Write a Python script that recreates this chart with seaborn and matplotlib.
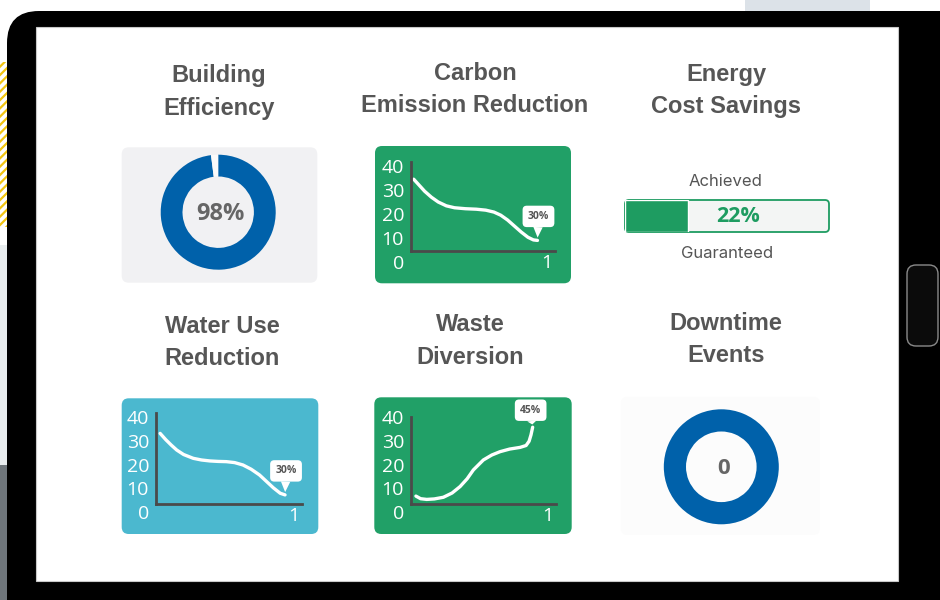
import numpy as np
import pandas as pd
import matplotlib.pyplot as plt
import seaborn as sns
from matplotlib.patches import FancyBboxPatch, Rectangle

sns.set_theme(style="white")
plt.rcParams["font.family"] = ["Open Sans", "DejaVu Sans"]
plt.rcParams["hatch.linewidth"] = 1.6

W, H = 940, 600

# ---- data ----
titles = ["Building\nEfficiency", "Carbon\nEmission Reduction", "Energy\nCost Savings",
          "Water Use\nReduction", "Waste\nDiversion", "Downtime\nEvents"]

efficiency_pct = [98, 2]

y_ticks = [0, 10, 20, 30, 40]
x_ticks = [1]

carbon_x = [0.02, 0.06, 0.10, 0.15, 0.20, 0.26, 0.32, 0.40, 0.48, 0.55, 0.61,
            0.66, 0.71, 0.76, 0.81, 0.86, 0.90, 0.93]
carbon_y = [34.5, 32.0, 29.5, 27.0, 25.0, 23.4, 22.6, 22.2, 22.0, 21.6, 20.8,
            19.5, 17.5, 15.0, 12.5, 10.3, 9.2, 9.0]
carbon_label = "30%"

water_x = [0.03, 0.07, 0.11, 0.15, 0.20, 0.27, 0.33, 0.39, 0.45, 0.51, 0.57,
           0.63, 0.69, 0.75, 0.80, 0.85, 0.90, 0.935]
water_y = [33.1, 30.5, 28.2, 26.1, 24.2, 22.6, 21.9, 21.5, 21.3, 21.2, 20.8,
           19.8, 18.0, 15.6, 12.9, 10.2, 7.9, 7.2]
water_label = "30%"

waste_x = [0.036, 0.07, 0.115, 0.17, 0.236, 0.30, 0.358, 0.41, 0.455, 0.528,
           0.59, 0.65, 0.72, 0.796, 0.84, 0.862, 0.876, 0.888]
waste_y = [6.7, 5.6, 5.3, 5.5, 6.2, 8.0, 10.7, 14.0, 17.7, 21.9,
           24.0, 25.4, 26.5, 27.2, 28.0, 29.8, 32.5, 35.7]
waste_label = "45%"

savings_pct = 22
savings_scale = 71
savings_top = "Achieved"
savings_bottom = "Guaranteed"

downtime_events = 0
downtime_ring = [1]

# ---- colours ----
GREEN = "#21A067"
BAR_GREEN = "#1E9C61"
CYAN = "#4BB8CF"
BLUE = "#0061AA"
TITLE_GRAY = "#565656"
AXIS_GRAY = "#4A4A4A"


def px_rect(x0, y0, x1, y1):
    return [x0 / W, 1 - y1 / H, (x1 - x0) / W, (y1 - y0) / H]


fig = plt.figure(figsize=(W / 100, H / 100), dpi=100, facecolor="white")

# background: tablet frame and panels in pixel coordinates
bg = fig.add_axes([0, 0, 1, 1])
bg.set_xlim(0, W)
bg.set_ylim(H, 0)
bg.axis("off")

bg.add_patch(Rectangle((745, 0), 125, 13, color="#DCE2E8", lw=0))
bg.add_patch(Rectangle((0, 62), 9, 165, facecolor="none", edgecolor="#F2C511",
                       hatch="////", lw=0))
bg.add_patch(Rectangle((0, 245), 9, 220, color="#E9EDEF", lw=0))
bg.add_patch(Rectangle((0, 465), 9, 135, color="#6F767B", lw=0))
bg.add_patch(FancyBboxPatch((7, 11), 980, 640, boxstyle="round,pad=0,rounding_size=32",
                            fc="black", ec="none"))
bg.add_patch(Rectangle((36, 27), 862, 554, fc="white", ec="#C8C8C8", lw=0.8))
bg.add_patch(FancyBboxPatch((907, 265), 31, 81, boxstyle="round,pad=0,rounding_size=9",
                            fc="#0B0B0B", ec="#8A8A8A", lw=1.0))

panels = [
    ((121.7, 147.3, 317.3, 282.7), "#F1F1F3"),
    ((375, 146, 571, 283.3), GREEN),
    ((121.7, 398.3, 318.3, 534), CYAN),
    ((374.3, 397.3, 571.7, 534), GREEN),
    ((620.7, 396.7, 820, 535), "#FCFCFC"),
]
for (x0, y0, x1, y1), c in panels:
    bg.add_patch(FancyBboxPatch((x0, y0), x1 - x0, y1 - y0,
                                boxstyle="round,pad=0,rounding_size=7", fc=c, ec="none"))

# titles
title_pos = [(219, 92), (475, 89.5), (726, 90.5), (222, 342.5), (470, 341), (726, 339.5)]
for t, (x, y) in zip(titles, title_pos):
    fig.text(x / W, 1 - y / H, t, ha="center", va="center", fontsize=17,
             fontweight="bold", color=TITLE_GRAY, linespacing=1.55,
             family=["Liberation Sans", "DejaVu Sans"])


def donut(center, r_out, r_in, values, colors, label, size):
    cx, cy = center
    ax = fig.add_axes(px_rect(cx - r_out, cy - r_out, cx + r_out, cy + r_out))
    ax.pie(values, colors=colors, startangle=90, counterclock=False, radius=1,
           wedgeprops=dict(width=1 - r_in / r_out, linewidth=0))
    ax.set_xlim(-1, 1)
    ax.set_ylim(-1, 1)
    ax.text(0.04, -0.03, label, ha="center", va="center", fontsize=size,
            fontweight="bold", color="#666666")
    return ax


donut((218.2, 212.2), 57.5, 35.7, efficiency_pct, [BLUE, "#FAFAFA"],
      f"{efficiency_pct[0]}%", 17)
donut((721.3, 466.8), 57.5, 35.3, downtime_ring, [BLUE], str(downtime_events), 16)


def line_panel(rect, origin, scale, base, top, xs, ys, label, offset):
    x0, y0, x1, y1 = rect
    ox, oy = origin
    sx, sy = scale
    ax = fig.add_axes(px_rect(*rect))
    ax.set_facecolor("none")
    df = pd.DataFrame({"x": xs, "y": ys})
    sns.lineplot(data=df, x="x", y="y", color="white", lw=2.4, ax=ax,
                 sort=False, solid_capstyle="round")
    ax.set_xlim((x0 - ox) / sx, (x1 - ox) / sx)
    ax.set_ylim((oy - y1) / sy, (oy - y0) / sy)
    ax.set_xlabel("")
    ax.set_ylabel("")
    for s in ["top", "right"]:
        ax.spines[s].set_visible(False)
    ax.spines["left"].set_position(("data", 0))
    ax.spines["left"].set_bounds(base, top)
    ax.spines["bottom"].set_position(("data", base))
    ax.spines["bottom"].set_bounds(0, 1.06)
    for s in ["left", "bottom"]:
        ax.spines[s].set_color(AXIS_GRAY)
        ax.spines[s].set_linewidth(2)
    ax.set_yticks(y_ticks)
    ax.set_xticks(x_ticks)
    ax.tick_params(length=0, labelcolor="white", labelsize=14)
    ax.tick_params(axis="y", pad=5)
    ax.tick_params(axis="x", pad=2)
    ax.annotate(label, xy=(xs[-1], ys[-1]), xytext=offset, textcoords="offset pixels",
                ha="center", va="center", fontsize=7.5, fontweight="bold", color="#555555",
                bbox=dict(boxstyle="round,pad=0.5,rounding_size=0.4", fc="white", ec="none"),
                arrowprops=dict(arrowstyle="wedge,tail_width=0.9,shrink_factor=0.5",
                                fc="white", ec="none", shrinkA=0, shrinkB=2))
    return ax


line_panel((375, 146, 571, 283.3), (411, 262), (136, 2.4), 4.6, 41.8,
           carbon_x, carbon_y, carbon_label, (1, 24))
line_panel((121.7, 398.3, 318.3, 534), (156, 512), (138, 2.375), 3.4, 41.7,
           water_x, water_y, water_label, (1, 24))
line_panel((374.3, 397.3, 571.7, 534), (411, 512), (137, 2.375), 3.4, 40.0,
           waste_x, waste_y, waste_label, (-2, 17))

# progress bar
bg.add_patch(FancyBboxPatch((625, 200), 204, 32, boxstyle="round,pad=0,rounding_size=4",
                            fc="#F3F5F4", ec=BAR_GREEN, lw=1.3))
bax = fig.add_axes(px_rect(625, 200, 829, 232))
sns.barplot(x=[savings_pct], y=["savings"], orient="h", color=BAR_GREEN,
            saturation=1, width=1, ax=bax)
bax.set_xlim(0, savings_scale)
bax.set_ylim(0.5, -0.5)
bax.axis("off")
bax.text(0.555, 0.47, f"{savings_pct}%", transform=bax.transAxes, ha="center",
         va="center", fontsize=15.5, fontweight="bold", color=BAR_GREEN)
fig.text(726 / W, 1 - 182 / H, savings_top, ha="center", va="center",
         fontsize=12, color="#555555", family=["Inter", "DejaVu Sans"])
fig.text(727 / W, 1 - 254 / H, savings_bottom, ha="center", va="center",
         fontsize=12, color="#555555", family=["Inter", "DejaVu Sans"])

fig.savefig("out.png", dpi=100, facecolor="white")
